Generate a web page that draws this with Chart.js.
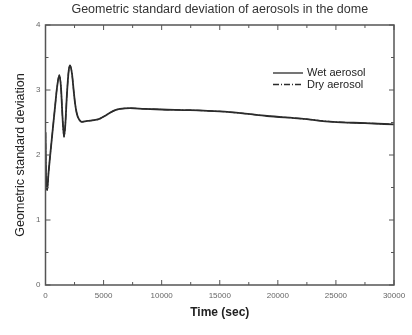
<!DOCTYPE html>
<html>
<head>
<meta charset="utf-8">
<script src="https://cdn.jsdelivr.net/npm/chart.js@4.4.1/dist/chart.umd.min.js"></script>
<style>
  html, body { margin: 0; padding: 0; background: #fff; }
  #wrap { width: 412px; height: 335px; }
</style>
</head>
<body>
<div id="wrap"><canvas id="gsdChart" width="412" height="335"></canvas></div>
<script>
// time axis (sec) and geometric standard deviation for each aerosol
const timeSec = [0, 60, 150, 250, 390, 600, 820, 1000, 1190, 1330, 1460, 1590, 1700, 1850, 2000, 2110, 2280, 2420, 2540, 2680, 2800, 3140, 3500, 3830, 4300, 4690, 5100, 5550, 6000, 6410, 7280, 8500, 10000, 12400, 15000, 17000, 19070, 22000, 24750, 27500, 30000];
const wetGsd  = [2.35, 1.55, 1.46, 1.7, 1.97, 2.35, 2.74, 3.05, 3.23, 3.05, 2.6, 2.28, 2.45, 2.95, 3.3, 3.38, 3.25, 3.0, 2.8, 2.65, 2.58, 2.51, 2.52, 2.53, 2.54, 2.56, 2.6, 2.65, 2.69, 2.71, 2.72, 2.71, 2.70, 2.69, 2.67, 2.64, 2.6, 2.56, 2.51, 2.49, 2.47];
const dryGsd  = [2.35, 1.55, 1.46, 1.7, 1.97, 2.35, 2.74, 3.05, 3.23, 3.05, 2.6, 2.28, 2.45, 2.95, 3.3, 3.38, 3.25, 3.0, 2.8, 2.65, 2.58, 2.51, 2.52, 2.53, 2.54, 2.56, 2.6, 2.65, 2.69, 2.71, 2.72, 2.71, 2.70, 2.69, 2.67, 2.64, 2.6, 2.56, 2.51, 2.49, 2.47];

const seriesNames = ['Wet aerosol', 'Dry aerosol'];
const xMajorTicks = [0, 5000, 10000, 15000, 20000, 25000, 30000];
const xMinorTicks = [2500, 7500, 12500, 17500, 22500, 27500];
const yMajorTicks = [0, 1, 2, 3, 4];
const yMinorTicks = [0.5, 1.5, 2.5, 3.5];

const inkColor = '#2b2b2b';
const frameColor = '#555';
const fontFamily = '"Liberation Sans", Arial, sans-serif';

function toPoints(xs, ys) {
  return xs.map((x, i) => ({ x: x, y: ys[i] }));
}

// frame box with inward ticks on all four sides, plus title and inline legend
const framePlugin = {
  id: 'framePlugin',
  afterDraw(chart) {
    const { ctx, chartArea: a, scales } = chart;
    const xs = scales.x, ys = scales.y;
    ctx.save();
    ctx.strokeStyle = frameColor;
    ctx.lineWidth = 1.5;
    ctx.strokeRect(a.left, a.top, a.right - a.left, a.bottom - a.top);

    ctx.lineWidth = 1;
    const tick = (x1, y1, x2, y2) => {
      ctx.beginPath(); ctx.moveTo(x1, y1); ctx.lineTo(x2, y2); ctx.stroke();
    };
    xMajorTicks.forEach(v => {
      const px = xs.getPixelForValue(v);
      tick(px, a.bottom, px, a.bottom - 5);
      tick(px, a.top, px, a.top + 5);
    });
    xMinorTicks.forEach(v => {
      const px = xs.getPixelForValue(v);
      tick(px, a.bottom, px, a.bottom - 3);
      tick(px, a.top, px, a.top + 3);
    });
    yMajorTicks.forEach(v => {
      const py = ys.getPixelForValue(v);
      tick(a.left, py, a.left + 5, py);
      tick(a.right, py, a.right - 5, py);
    });
    yMinorTicks.forEach(v => {
      const py = ys.getPixelForValue(v);
      tick(a.left, py, a.left + 3, py);
      tick(a.right, py, a.right - 3, py);
    });

    // title over the plot box
    ctx.fillStyle = '#333';
    ctx.font = '12.5px ' + fontFamily;
    ctx.textAlign = 'center';
    ctx.textBaseline = 'middle';
    ctx.fillText('Geometric standard deviation of aerosols in the dome', (a.left + a.right) / 2, 10);

    // legend
    ctx.textAlign = 'left';
    ctx.font = '11px ' + fontFamily;
    chart.data.datasets.forEach((ds, i) => {
      const y = 73 + i * 11.5;
      ctx.strokeStyle = ds.borderColor;
      ctx.lineWidth = 1.3;
      ctx.setLineDash(ds.borderDash || []);
      tick(273, y, 303, y);
      ctx.setLineDash([]);
      ctx.fillStyle = '#222';
      ctx.fillText(ds.label, 307, y);
    });
    ctx.restore();
  }
};

const ctx = document.getElementById('gsdChart').getContext('2d');

new Chart(ctx, {
  type: 'line',
  data: {
    datasets: [{
      label: seriesNames[0],
      data: toPoints(timeSec, wetGsd),
      borderColor: inkColor,
      borderWidth: 1.8,
      pointRadius: 0,
      cubicInterpolationMode: 'monotone'
    }, {
      label: seriesNames[1],
      data: toPoints(timeSec, dryGsd),
      borderColor: inkColor,
      borderWidth: 1.2,
      borderDash: [6, 2, 1, 2],
      pointRadius: 0,
      cubicInterpolationMode: 'monotone'
    }]
  },
  options: {
    responsive: false,
    animation: false,
    layout: { padding: { top: 25, right: 18, left: 0, bottom: 0 } },
    scales: {
      x: {
        type: 'linear',
        min: 0,
        max: 30000,
        afterFit(scale) { scale.height = 50; },
        afterBuildTicks(scale) { scale.ticks = xMajorTicks.map(v => ({ value: v })); },
        grid: { display: false, drawTicks: false },
        border: { display: false },
        ticks: {
          color: '#666',
          padding: 6,
          maxRotation: 0,
          font: { family: fontFamily, size: 8 },
          callback: v => String(v)
        },
        title: {
          display: true,
          text: 'Time (sec)',
          color: '#222',
          padding: { top: 4, bottom: 15 },
          font: { family: fontFamily, size: 12, weight: 'bold' }
        }
      },
      y: {
        min: 0,
        max: 4,
        afterFit(scale) { scale.width = 45.5; },
        afterBuildTicks(scale) { scale.ticks = yMajorTicks.map(v => ({ value: v })); },
        grid: { display: false, drawTicks: false },
        border: { display: false },
        ticks: {
          color: '#666',
          padding: 5,
          font: { family: fontFamily, size: 8 }
        },
        title: {
          display: true,
          text: 'Geometric standard deviation',
          color: '#222',
          padding: { top: 13, bottom: 4 },
          font: { family: fontFamily, size: 12.5 }
        }
      }
    },
    plugins: {
      legend: { display: false },
      tooltip: { enabled: false }
    }
  },
  plugins: [framePlugin]
});
</script>
</body>
</html>
